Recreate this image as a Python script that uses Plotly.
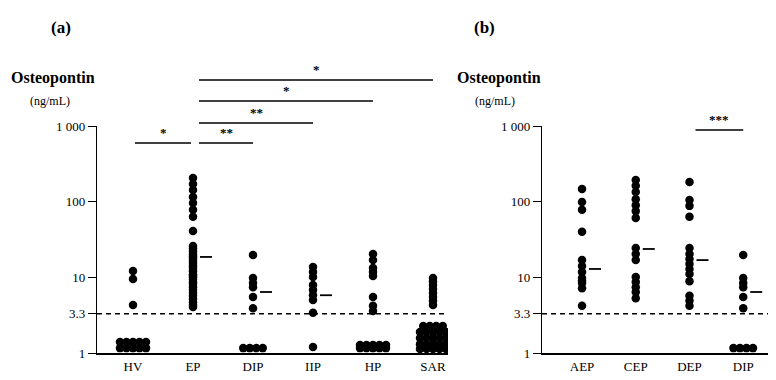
import plotly.graph_objects as go

# ---------------- data ----------------
cats_a = ["HV", "EP", "DIP", "IIP", "HP", "SAR"]
HV = [12.1, 9.5, 4.3] + [1.40] * 5 + [1.16] * 5
EP = [205, 171, 143, 115, 96, 78, 63, 41,
      26, 24, 22, 20, 19, 18, 17, 16, 15, 14, 13, 12, 11, 10.5, 10,
      9.3, 8.6, 8.0, 7.4, 6.8, 6.2, 5.7, 5.2, 4.7, 4.3, 4.05]
DIP = [19.7, 9.8, 8.4, 7.4, 5.5, 3.9] + [1.16] * 4
IIP = [13.7, 11.8, 10.1, 7.9, 6.8, 5.8, 5.0, 3.4, 1.2]
HP = [20.3, 16.9, 13.3, 11.8, 10.4, 5.5, 4.2, 3.6] + [1.28] * 5 + [1.16] * 5
SAR = [9.8, 8.8, 7.9, 7.0, 6.2, 5.5, 4.9, 4.3] + [2.27] * 4 + [1.9] * 5 + \
      [1.58] * 5 + [1.31] * 5 + [1.13] * 5
vals_a = [HV, EP, DIP, IIP, HP, SAR]
medians_a = [None, 18.6, 6.4, 5.8, None, None]

cats_b = ["AEP", "CEP", "DEP", "DIP"]
AEP = [147, 99, 78, 40, 16.9, 14.1, 11.8, 9.8, 9.0, 8.4, 7.2, 4.2]
CEP = [193, 162, 134, 108, 90, 75, 61, 24.4, 20.3, 16.9, 10.1, 8.7, 7.4, 6.4, 5.3]
DEP = [182, 105, 88, 63, 24.4, 20.3, 17.5, 15, 12.9, 11.1, 8.9, 5.7, 4.9, 4.2]
DIP_b = [19.7, 9.8, 8.4, 7.4, 5.5, 3.9] + [1.16] * 4
vals_b = [AEP, CEP, DEP, DIP_b]
medians_b = [12.9, 23.7, 16.9, 6.4]

cutoff = 3.3
y_tickvals = [1, 3.3, 10, 100, 1000]
y_ticktext = ["1", "3.3", "10", "100", "1 000"]

# comparisons: (group i, group j, label)
comps_a = [(0, 1, "*"), (1, 2, "**"), (1, 3, "**"), (1, 4, "*"), (1, 5, "*")]
comps_b = [(2, 3, "***")]

# ---------------- layout geometry ----------------
# page has an 8px body margin; figure occupies page px 8..776 x 8..380
OFF = 8
W, H = 776 - OFF, 380 - OFF
SERIF = "Liberation Serif"
ax_a = dict(x0=97, x1=448, rng=[-0.6, 5.25])
ax_b = dict(x0=542, x1=776, rng=[-0.745, 3.61])
y_bot_px, y_top_px = 353, 126


def px_(x):
    return (x - OFF) / W


def py(y):
    return 1 - (y - OFF) / H


def spread(vals, unit_px, step_px=6.5):
    """horizontal offsets only for tied values (below-detection clusters)"""
    counts = {}
    for v in vals:
        counts[v] = counts.get(v, 0) + 1
    seen = {}
    offs = []
    for v in vals:
        n = counts[v]
        k = seen.get(v, 0)
        seen[v] = k + 1
        offs.append((k - (n - 1) / 2) * step_px / unit_px if n > 1 else 0.0)
    return offs


fig = go.Figure()


def add_panel(cats, vals, meds, xa, ya, ax):
    unit_px = (ax["x1"] - ax["x0"]) / (ax["rng"][1] - ax["rng"][0])
    for i, v in enumerate(vals):
        offs = spread(v, unit_px)
        fig.add_trace(go.Scatter(
            x=[i + o for o in offs], y=v, mode="markers",
            marker=dict(color="black", size=8.5, line=dict(width=0)),
            xaxis=xa, yaxis=ya, hoverinfo="skip"))
    # medians
    mx, my = [], []
    d0, d1 = 7 / unit_px, 19 / unit_px
    for i, m in enumerate(meds):
        if m is None:
            continue
        mx += [i + d0, i + d1, None]
        my += [m, m, None]
    fig.add_trace(go.Scatter(x=mx, y=my, mode="lines",
                             line=dict(color="black", width=1.8),
                             xaxis=xa, yaxis=ya, hoverinfo="skip"))
    # cutoff dashed line
    fig.add_trace(go.Scatter(x=ax["rng"], y=[cutoff, cutoff], mode="lines",
                             line=dict(color="black", width=1.4, dash="5px,4px"),
                             xaxis=xa, yaxis=ya, hoverinfo="skip"))


add_panel(cats_a, vals_a, medians_a, "x", "y", ax_a)
add_panel(cats_b, vals_b, medians_b, "x2", "y2", ax_b)

shapes = []
annotations = []


def add_brackets(comps, levels_px, xa, ax):
    unit_px = (ax["x1"] - ax["x0"]) / (ax["rng"][1] - ax["rng"][0])
    for (i, j, lab), ypx in zip(comps, levels_px):
        xs = i + (2 if i == 0 else 6) / unit_px
        xe = j - (0 if j > 1 else 2) / unit_px
        shapes.append(dict(type="line", xref=xa, yref="paper",
                           x0=xs, x1=xe, y0=py(ypx), y1=py(ypx),
                           line=dict(color="black", width=1.5)))
        annotations.append(dict(xref=xa, yref="paper", x=(xs + xe) / 2,
                                y=py(ypx - 1), yanchor="bottom", showarrow=False,
                                text=f"<b>{lab}</b>",
                                font=dict(family=SERIF, size=13, color="black")))


add_brackets(comps_a, [143, 143, 123, 101, 80], "x", ax_a)
add_brackets(comps_b, [130], "x2", ax_b)

# titles
for txt, xpx, ypx, size, bold in [
    ("(a)", 61, 28, 17, True), ("(b)", 484, 28, 17, True),
    ("Osteopontin", 53, 78, 16, True), ("(ng/mL)", 50, 101, 12, False),
    ("Osteopontin", 499, 78, 16, True), ("(ng/mL)", 495, 101, 12, False),
]:
    annotations.append(dict(xref="paper", yref="paper", x=px_(xpx), y=py(ypx),
                            xanchor="center", yanchor="middle", showarrow=False,
                            text=f"<b>{txt}</b>" if bold else txt,
                            font=dict(family=SERIF, size=size, color="black")))


def xaxis(ax, cats, anchor):
    return dict(domain=[px_(ax["x0"]), min(1.0, px_(ax["x1"]))], range=ax["rng"],
                tickvals=list(range(len(cats))), ticktext=cats,
                showline=True, linecolor="black", linewidth=2,
                ticks="", showgrid=False, zeroline=False, anchor=anchor,
                automargin=False,
                tickfont=dict(family=SERIF, size=13, color="black"))


def yaxis(anchor):
    return dict(type="log", range=[0, 3],
                domain=[py(y_bot_px), py(y_top_px)],
                tickvals=y_tickvals, ticktext=y_ticktext,
                ticks="outside", ticklen=8, tickwidth=1.4, tickcolor="black",
                showline=True, linecolor="black", linewidth=1.4,
                showgrid=False, zeroline=False, anchor=anchor,
                automargin=False,
                tickfont=dict(family=SERIF, size=13, color="black"))


fig.update_layout(
    width=W, height=H, margin=dict(l=0, r=0, t=0, b=0, autoexpand=False),
    paper_bgcolor="white", plot_bgcolor="white", showlegend=False,
    xaxis=xaxis(ax_a, cats_a, "y"), yaxis=yaxis("x"),
    xaxis2=xaxis(ax_b, cats_b, "y2"), yaxis2=yaxis("x2"),
    shapes=shapes, annotations=annotations,
)

fig.write_html("out.html")
